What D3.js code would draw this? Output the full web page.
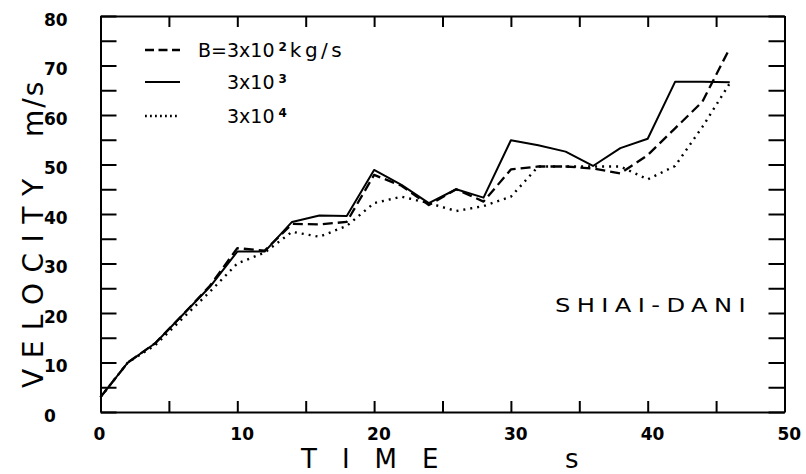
<!DOCTYPE html>
<html>
<head>
<meta charset="utf-8">
<script src="https://cdn.jsdelivr.net/npm/d3@7"></script>
<style>
  body { margin: 0; background: #fff; }
  text { font-family: 'DejaVu Sans', sans-serif; fill: #000; }
</style>
</head>
<body>
<div id="chart"></div>
<script>
const width = 806,
  height = 474;

// time in s
const time = [0, 2, 4, 6, 8, 10, 12, 14, 16, 18, 20, 22, 24, 26, 28, 30, 32, 34, 36, 38, 40, 42, 44, 46];

// velocity m/s for each B
const velB2 = [3, 10, 13.9, 19.6, 25.5, 33.1, 32.6, 38.0, 37.9, 38.4, 47.9, 45.7, 41.8, 45.0, 42.5, 49.0, 49.6, 49.6, 49.2, 48.2, 51.9, 57.3, 62.7, 73.5];
const velB3 = [3, 10, 13.9, 19.6, 25.3, 32.4, 32.4, 38.4, 39.7, 39.6, 48.9, 45.9, 42.2, 45.0, 43.3, 54.9, 53.9, 52.6, 49.7, 53.3, 55.2, 66.7, 66.7, 66.6];
const velB4 = [3, 10, 13.5, 18.9, 24.3, 30.0, 32.2, 36.4, 35.4, 37.6, 42.2, 43.5, 42.2, 40.6, 41.6, 43.5, 49.6, 49.6, 49.6, 49.6, 47.0, 49.7, 57.6, 66.4];

const xTicks = [0, 5, 10, 15, 20, 25, 30, 35, 40, 45, 50];
const yTicks = [0, 5, 10, 15, 20, 25, 30, 35, 40, 45, 50, 55, 60, 65, 70, 75, 80];

const series = [
  { name: 'B2', label: 'B=3x10', sup: '2', unit: 'kg/s', values: velB2, dash: '10,5', w: 2.3 },
  { name: 'B3', label: '3x10', sup: '3', unit: '', values: velB3, dash: null, w: 2 },
  { name: 'B4', label: '3x10', sup: '4', unit: '', values: velB4, dash: '2,5', w: 2.4 }
];

const margin = { top: 16, right: 21.5, bottom: 62, left: 100.5 };

const x = d3.scaleLinear().domain([0, 50]).range([margin.left, width - margin.right]);
const y = d3.scaleLinear().domain([0, 80]).range([height - margin.bottom, margin.top]);

const svg = d3.select('#chart').append('svg').attr('width', width).attr('height', height);

// frame + inward ticks
const bottom = svg
  .append('g')
  .attr('transform', `translate(0,${y(0)})`)
  .call(d3.axisBottom(x).tickValues(xTicks).tickSize(-11).tickSizeOuter(0).tickFormat(d => (d % 10 === 0 ? d : '')));

bottom
  .selectAll('text')
  .attr('text-anchor', 'start')
  .attr('x', -7.5)
  .attr('y', 28)
  .attr('dy', 0)
  .style('font-size', '17px')
  .style('font-weight', 'bold');

svg
  .append('g')
  .attr('transform', `translate(0,${y(80)})`)
  .call(d3.axisTop(x).tickValues(xTicks).tickSize(-11).tickSizeOuter(0).tickFormat(''));

const left = svg
  .append('g')
  .attr('transform', `translate(${x(0)},0)`)
  .call(d3.axisLeft(y).tickValues(yTicks).tickSize(-16).tickSizeOuter(0).tickFormat(d => (d % 10 === 0 ? d : '')));

left
  .selectAll('text')
  .attr('text-anchor', 'start')
  .attr('x', -56.5)
  .attr('y', 9)
  .attr('dy', 0)
  .style('font-size', '17px')
  .style('font-weight', 'bold');

svg
  .append('g')
  .attr('transform', `translate(${x(50)},0)`)
  .call(d3.axisRight(y).tickValues(yTicks).tickSize(-16).tickSizeOuter(0).tickFormat(''));

svg.selectAll('.domain').attr('stroke', '#000').attr('stroke-width', 2);
svg.selectAll('.tick line').attr('stroke', '#000').attr('stroke-width', 2);

// curves
const line = d3
  .line()
  .x((d, i) => x(time[i]))
  .y(d => y(d));

svg
  .append('g')
  .selectAll('path')
  .data(series)
  .enter()
  .append('path')
  .attr('d', d => line(d.values))
  .attr('fill', 'none')
  .attr('stroke', '#000')
  .attr('stroke-width', d => d.w)
  .attr('stroke-linejoin', 'round')
  .attr('stroke-dasharray', d => d.dash);

// legend
const legendRows = [50, 82, 116];
const legend = svg
  .append('g')
  .selectAll('.legend')
  .data(series)
  .enter()
  .append('g')
  .attr('class', 'legend')
  .attr('transform', (d, i) => `translate(0,${legendRows[i]})`);

legend
  .append('line')
  .attr('x1', 145)
  .attr('x2', 180)
  .attr('stroke', '#000')
  .attr('stroke-width', d => d.w)
  .attr('stroke-dasharray', d => (d.dash === '10,5' ? '9,4.5' : d.dash === '2,5' ? '1.8,3.2' : null));

const legendText = legend
  .append('text')
  .attr('x', d => (d.unit ? 198 : 227))
  .attr('y', 7)
  .style('font-size', '19px');

legendText.append('tspan').text(d => d.label);
legendText
  .append('tspan')
  .attr('dx', 4)
  .attr('dy', -6)
  .style('font-size', '12px')
  .style('font-weight', 'bold')
  .text(d => d.sup);
legendText
  .append('tspan')
  .attr('dx', 3)
  .attr('dy', 6)
  .style('font-size', '20px')
  .style('letter-spacing', '3.5px')
  .text(d => d.unit);

// axis titles
svg
  .append('text')
  .attr('x', 301)
  .attr('y', 468)
  .style('font-size', '26px')
  .style('letter-spacing', '25px')
  .text('TIME');

svg
  .append('text')
  .attr('x', 565)
  .attr('y', 468)
  .style('font-size', '26px')
  .text('s');

svg
  .append('text')
  .attr('transform', 'translate(43,388) rotate(-90)')
  .style('font-size', '28px')
  .style('letter-spacing', '10.5px')
  .text('VELOCITY');

svg
  .append('text')
  .attr('transform', 'translate(43,137) rotate(-90)')
  .style('font-size', '28px')
  .style('letter-spacing', '2px')
  .text('m/s');

svg
  .append('text')
  .attr('x', 555)
  .attr('y', 312)
  .attr('textLength', 197)
  .attr('lengthAdjust', 'spacingAndGlyphs')
  .style('font-size', '19px')
  .style('letter-spacing', '5px')
  .text('SHIAI-DANI');
</script>
</body>
</html>
